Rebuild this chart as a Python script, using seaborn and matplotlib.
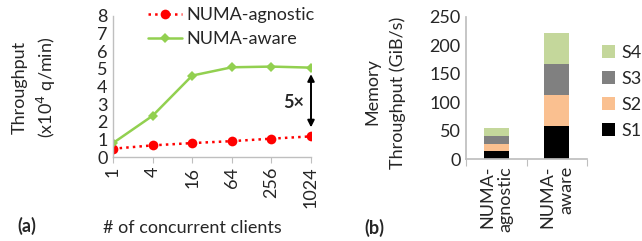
import matplotlib
matplotlib.use("Agg")
import matplotlib.pyplot as plt
import seaborn as sns
import pandas as pd
import numpy as np

# ---- data ----
clients = ["1", "4", "16", "64", "256", "1024"]
numa_agnostic = [0.47, 0.66, 0.79, 0.90, 1.04, 1.17]
numa_aware = [0.79, 2.34, 4.62, 5.09, 5.13, 5.07]

bar_cats = ["NUMA-\nagnostic", "NUMA-\naware"]
s1 = [14, 58]
s2 = [13, 54]
s3 = [13, 55]
s4 = [14, 54]
sockets = ["S1", "S2", "S3", "S4"]
sock_colors = ["#000000", "#FAC090", "#808080", "#C4D79B"]

sns.set_theme(style="white")
plt.rcParams["font.family"] = ["Lato", "DejaVu Sans"]
FS = 13

W, H = 642, 241
fig = plt.figure(figsize=(W / 100, H / 100), dpi=100)

gray = "#BFBFBF"

# ---- left panel ----
axL = fig.add_axes([113 / W, 1 - 157 / H, (311 - 113) / W, (157 - 16) / H])
dfl = pd.DataFrame({
    "x": list(range(len(clients))) * 2,
    "y": numa_agnostic + numa_aware,
    "series": ["NUMA-agnostic"] * len(clients) + ["NUMA-aware"] * len(clients),
})
sns.lineplot(data=dfl[dfl.series == "NUMA-agnostic"], x="x", y="y", ax=axL,
             color="#FF0000", linestyle=":", linewidth=1.8, marker="o",
             markersize=7, markeredgewidth=0, label="NUMA-agnostic")
sns.lineplot(data=dfl[dfl.series == "NUMA-aware"], x="x", y="y", ax=axL,
             color="#92D050", linestyle="-", linewidth=1.8, marker="D",
             markersize=5.5, markeredgewidth=0, label="NUMA-aware")
axL.set_xlim(0, len(clients) - 1)
axL.set_ylim(0, 8)
axL.set_yticks(range(0, 9))
axL.set_xticks(range(len(clients)))
axL.set_xticklabels(clients, rotation=90, fontsize=FS)
axL.tick_params(axis="y", labelsize=FS, length=0, pad=4)
axL.tick_params(axis="x", length=4, width=0.8, color=gray, direction="out",
                pad=3, bottom=True)
for s in ["top", "right"]:
    axL.spines[s].set_visible(False)
for s in ["left", "bottom"]:
    axL.spines[s].set_color(gray)
    axL.spines[s].set_linewidth(1)
axL.set_xlabel("")
axL.set_ylabel("")
axL.legend(loc="upper left", bbox_to_anchor=(148 / W, 1 - 7 / H),
           bbox_transform=fig.transFigure, frameon=False, fontsize=FS,
           handlelength=1.9, handletextpad=0.25, labelspacing=0.45,
           borderpad=0, borderaxespad=0)
axL.annotate("", xy=(5, 1.68), xytext=(5, 4.7),
             arrowprops=dict(arrowstyle="<|-|>", color="black", lw=1.4,
                             mutation_scale=10, shrinkA=0, shrinkB=0))
axL.text(4.83, 3.1, "5×", fontsize=FS, fontweight="bold", ha="right", va="center")

fig.text(20 / W, 1 - 87 / H, "Throughput", rotation=90, fontsize=FS,
         ha="center", va="center")
fig.text(46 / W, 1 - 87 / H, "(x10$^4$ q/min)", rotation=90, fontsize=FS,
         ha="center", va="center")
fig.text(192 / W, 1 - 228 / H, "# of concurrent clients", fontsize=FS,
         ha="center", va="center")
fig.text(27 / W, 1 - 226 / H, "(a)", fontsize=FS, fontweight="bold",
         ha="center", va="center")

# ---- right panel ----
axR = fig.add_axes([466 / W, 1 - 159 / H, (587 - 466) / W, (159 - 17) / H])
stack = np.array([s1, s2, s3, s4])
cum = np.cumsum(stack, axis=0)
for i in range(len(sockets) - 1, -1, -1):
    dfb = pd.DataFrame({"cat": bar_cats, "val": cum[i]})
    sns.barplot(data=dfb, x="cat", y="val", ax=axR, color=sock_colors[i],
                width=0.41, saturation=1, label=sockets[i], linewidth=0)
axR.set_xlim(-0.5, 1.5)
axR.set_ylim(0, 250)
axR.set_yticks(range(0, 251, 50))
axR.tick_params(axis="y", labelsize=FS, length=0, pad=4)
axR.set_xticks([0, 1])
axR.set_xticklabels(bar_cats, rotation=90, fontsize=FS, multialignment="right",
                    linespacing=1.2)
axR.tick_params(axis="x", which="major", length=0, pad=5)
axR.set_xticks([-0.5, 0.5, 1.5], minor=True)
axR.tick_params(axis="x", which="minor", length=5, width=0.8, color=gray,
                bottom=True, direction="out")
for s in ["top", "right"]:
    axR.spines[s].set_visible(False)
axR.spines["left"].set_color(gray)
axR.spines["bottom"].set_color(gray)
axR.set_xlabel("")
axR.set_ylabel("")
h, l = axR.get_legend_handles_labels()
axR.legend(h, l, loc="upper left", bbox_to_anchor=(602 / W, 1 - 45 / H),
           bbox_transform=fig.transFigure, frameon=False, fontsize=FS,
           handlelength=0.7, handleheight=0.7, handletextpad=0.35,
           labelspacing=0.55, borderpad=0, borderaxespad=0)

fig.text(372 / W, 1 - 92 / H, "Memory", rotation=90, fontsize=FS,
         ha="center", va="center")
fig.text(398 / W, 1 - 93 / H, "Throughput (GiB/s)", rotation=90, fontsize=FS,
         ha="center", va="center")
fig.text(374 / W, 1 - 228 / H, "(b)", fontsize=FS, fontweight="bold",
         ha="center", va="center")

fig.savefig("out.png", dpi=100)
